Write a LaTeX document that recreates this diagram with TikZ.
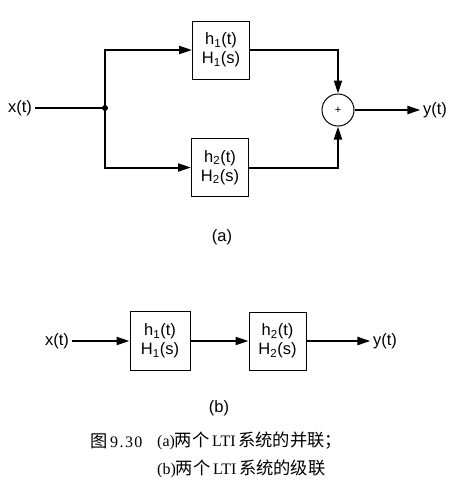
\documentclass[tikz,border=0pt]{standalone}
\usepackage{fontspec}
\setmainfont{Liberation Sans}
\newfontfamily\cjk{Noto Sans CJK SC}[Scale=1.08]
\newfontfamily\capfont{Liberation Serif}
\newfontfamily\numfont{Liberation Serif}[LetterSpace=9]
\usetikzlibrary{arrows.meta}
\begin{document}
\begin{tikzpicture}[x=1pt,y=-1pt,
    sys/.style={draw, line width=1pt, minimum width=57pt, minimum height=58pt,
      inner sep=0pt, align=center, font=\fontsize{16.5}{19}\selectfont},
    lbl/.style={font=\fontsize{16.5}{19}\selectfont, inner sep=2.5pt},
    sig/.style={line width=2pt, -{Triangle[length=13pt,width=8pt]}},
    wire/.style={line width=2pt},
    capline/.style={anchor=west, inner sep=0pt, font=\capfont\fontsize{16}{19}\selectfont}]
  \useasboundingbox (0,0) rectangle (457,496);

  % (a) parallel connection
  \node[lbl] (xa) at (20,108) {x(t)};
  \coordinate (split) at (105,108);
  \node[sys] (h1) at (221,50) {h\textsubscript{1}(t)\\H\textsubscript{1}(s)};
  \node[sys] (h2) at (220,167.5) {h\textsubscript{2}(t)\\H\textsubscript{2}(s)};
  \node[circle, draw, line width=1pt, minimum size=32pt, inner sep=0pt,
    font=\fontsize{11}{12}\selectfont] (sum) at (338,110) {+};
  \node[lbl] (ya) at (435,110) {y(t)};

  \draw[wire] (xa) -- (split);
  \fill (split) circle (3pt);
  \draw[sig] (split) |- (h1.west);
  \draw[sig] (split) |- (h2.west);
  \draw[sig] (h1.east) -| (sum.north);
  \draw[sig] (h2.east) -| (sum.south);
  \draw[sig] (sum) -- (ya);
  \node[lbl] (taga) at (222,237) {(a)};

  % (b) cascade connection
  \node[lbl] (xb) at (57,341) {x(t)};
  \node[sys, minimum width=60pt, minimum height=59pt] (g1) at (160,341) {h\textsubscript{1}(t)\\H\textsubscript{1}(s)};
  \node[sys] (g2) at (277.5,341) {h\textsubscript{2}(t)\\H\textsubscript{2}(s)};
  \node[lbl] (yb) at (385,341) {y(t)};
  \draw[sig] (xb) -- (g1);
  \draw[sig] (g1) -- (g2);
  \draw[sig] (g2) -- (yb);
  \node[lbl] (tagb) at (219,408) {(b)};

  % caption
  \node[capline] (cap1) at (90,441) {{\cjk 图}\,{\numfont 9.30}};
  \node[capline] (cap2) at (157,441) {(a){\cjk 两个}\,LTI\,{\cjk 系统的并联；}};
  \node[capline] (cap3) at (157,469) {(b){\cjk 两个}\,LTI\,{\cjk 系统的级联}};
\end{tikzpicture}
\end{document}
